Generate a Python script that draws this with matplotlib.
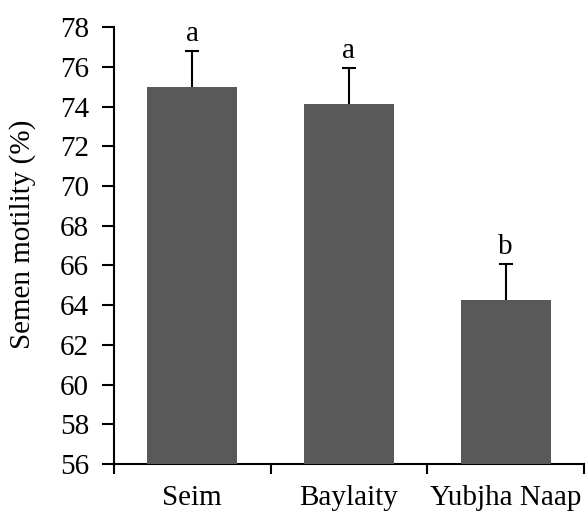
import matplotlib.pyplot as plt
from matplotlib.ticker import FixedLocator

plt.rcParams['font.family'] = ['Liberation Serif', 'DejaVu Serif']

# Motility by breed, mean and SE
breeds = ['Seim', 'Baylaity', 'Yubjha Naap']
motility = [75.0, 74.15, 64.25]
se = [1.8, 1.8, 1.8]
letters = ['a', 'a', 'b']

fig = plt.figure(figsize=(5.86, 5.13), dpi=100)
ax = fig.add_axes([0.1945, 0.0955, 0.802, 0.8515])

pos = [i + 0.5 for i in range(len(breeds))]
# bars drawn over the error bars so only the upper half shows
ax.bar(pos, motility, width=0.575, color='#595959', zorder=3)
ax.errorbar(pos, motility, yerr=se, fmt='none',
            ecolor='black', elinewidth=1.5, capsize=5, capthick=1.5, zorder=2)

for x, m, e, t in zip(pos, motility, se, letters):
    ax.text(x, m + e + 0.2, t, ha='center', va='bottom', fontsize=21)

ax.set_xlim(0, 3)
ax.set_ylim(56, 78)
ax.set_yticks(range(56, 79, 2))
ax.set_ylabel('Semen motility (%)', fontsize=21)
ax.yaxis.set_label_coords(-0.165, 0.525)

# category boundaries get the tick marks, names sit between them
ax.xaxis.set_major_locator(FixedLocator([0, 1, 2, 3]))
ax.xaxis.set_major_formatter(plt.NullFormatter())
ax.xaxis.set_minor_locator(FixedLocator(pos))
ax.set_xticklabels(breeds, minor=True)
ax.tick_params(axis='x', which='minor', length=0, pad=15, labelsize=21)
ax.tick_params(axis='x', which='major', direction='out', length=7, width=1.5)
ax.tick_params(axis='y', direction='out', length=9, width=1.5, pad=9, labelsize=21)

for s in ['top', 'right']:
    ax.spines[s].set_visible(False)
for s in ['left', 'bottom']:
    ax.spines[s].set_linewidth(1.5)

fig.savefig('out.png', dpi=100)
